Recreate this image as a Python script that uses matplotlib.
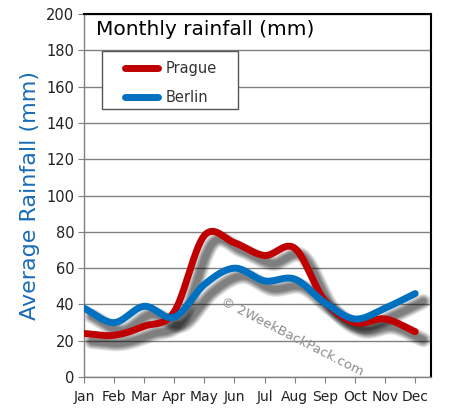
import numpy as np
import matplotlib
matplotlib.use("Agg")
from matplotlib import pyplot as plt
from matplotlib import transforms
from matplotlib.patches import Rectangle

months = ["Jan", "Feb", "Mar", "Apr", "May", "Jun",
          "Jul", "Aug", "Sep", "Oct", "Nov", "Dec"]
prague = [24, 23, 28, 36, 78, 74, 67, 71, 42, 30, 32, 25]
berlin = [38, 30, 39, 33, 51, 60, 53, 54, 41, 32, 38, 46]
y_ticks = [0, 20, 40, 60, 80, 100, 120, 140, 160, 180, 200]

RED = "#c00000"
BLUE = "#0070c0"


def smooth(values, steps=30):
    """Catmull-Rom curve through the monthly values (like Excel's smoothed line)."""
    p = np.asarray(values, dtype=float)
    x = np.arange(len(p), dtype=float)
    pp = np.concatenate([[2 * p[0] - p[1]], p, [2 * p[-1] - p[-2]]])
    xs, ys = [], []
    for i in range(len(p) - 1):
        p0, p1, p2, p3 = pp[i], pp[i + 1], pp[i + 2], pp[i + 3]
        t = np.linspace(0, 1, steps, endpoint=False)
        y = 0.5 * (2 * p1 + (-p0 + p2) * t
                   + (2 * p0 - 5 * p1 + 4 * p2 - p3) * t ** 2
                   + (-p0 + 3 * p1 - 3 * p2 + p3) * t ** 3)
        xs.append(x[i] + t)
        ys.append(y)
    xs.append([x[-1]])
    ys.append([p[-1]])
    return np.concatenate(xs), np.concatenate(ys)


fig = plt.figure(figsize=(4.51, 4.18), dpi=100)
ax = fig.add_axes([0.186, 0.098, 0.770, 0.868])

# blurred drop shadows, offset down-right
shadow_tr = transforms.offset_copy(ax.transData, fig=fig, x=8, y=-8, units="dots")
for values in (prague, berlin):
    sx, sy = smooth(values)
    for w in (11, 9, 7.5, 6, 4.5):
        ax.plot(sx, sy, color="black", lw=w, alpha=0.13,
                solid_capstyle="round", transform=shadow_tr, zorder=2)

for values, color, name in ((prague, RED, "Prague"), (berlin, BLUE, "Berlin")):
    sx, sy = smooth(values)
    ax.plot(sx, sy, color=color, lw=5, solid_capstyle="round",
            solid_joinstyle="round", label=name, zorder=3)

ax.set_xlim(0, 11.53)
ax.set_ylim(0, 200)
ax.set_xticks(range(12))
ax.set_xticklabels(months)
ax.set_yticks(y_ticks)
ax.grid(axis="y", color="#808080", lw=1)
ax.set_axisbelow(True)

for side in ("left", "bottom"):
    ax.spines[side].set_color("#808080")
    ax.spines[side].set_linewidth(1)
for side in ("top", "right"):
    ax.spines[side].set_color("black")
    ax.spines[side].set_linewidth(1.5)

ax.tick_params(axis="both", direction="out", length=4, color="#808080",
               labelsize=10.5, labelcolor="#222222")
ax.tick_params(axis="y", pad=3)
ax.tick_params(axis="x", pad=5, labelsize=10)

ax.set_ylabel("Average Rainfall (mm)", color="#1a6cb8", fontsize=16, labelpad=4)

ax.text(0.035, 0.985, "Monthly rainfall (mm)", transform=ax.transAxes,
        fontsize=14.5, color="black", ha="left", va="top")

# legend box drawn separately so it can be wider than the entries
ax.add_patch(Rectangle((0.052, 0.738), 0.392, 0.160, transform=ax.transAxes,
                       facecolor="white", edgecolor="#555555", lw=1, zorder=5))
leg = ax.legend(loc="upper left", bbox_to_anchor=(0.105, 0.883), frameon=False,
                fontsize=10.5, handlelength=2.3, borderpad=0.3,
                labelspacing=0.95, borderaxespad=0, handletextpad=0.5)
leg.set_zorder(6)
for t in leg.get_texts():
    t.set_color("#333333")
for ln in leg.get_lines():
    ln.set_linewidth(5)
    ln.set_solid_capstyle("round")

ax.text(0.60, 0.11, "\u00a9 2WeekBackPack.com", transform=ax.transAxes,
        fontsize=9.5, color="#8c8c8c", rotation=-27, ha="center", va="center",
        rotation_mode="anchor", zorder=4)

fig.savefig("out.png", dpi=100)
